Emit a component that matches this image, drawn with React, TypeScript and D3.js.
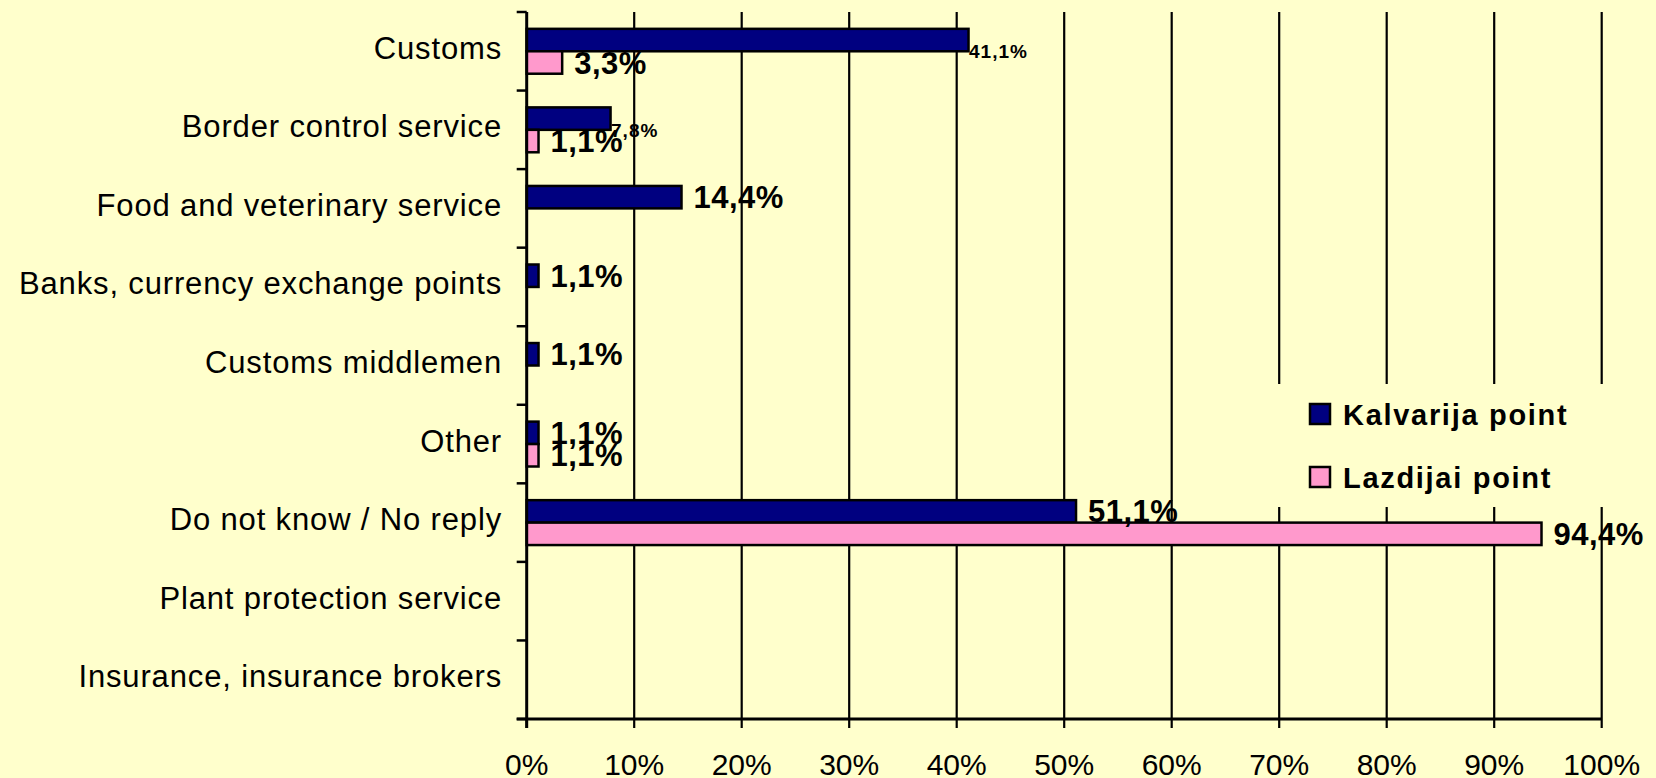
import React from "react";
import * as d3 from "d3";

const categories = [
  "Customs",
  "Border control service",
  "Food and veterinary service",
  "Banks, currency exchange points",
  "Customs middlemen",
  "Other",
  "Do not know / No reply",
  "Plant protection service",
  "Insurance, insurance brokers",
];
const seriesNames = ["Kalvarija point", "Lazdijai point"];
const kalvarija = [41.1, 7.8, 14.4, 1.1, 1.1, 1.1, 51.1, 0, 0];
const lazdijai = [3.3, 1.1, 0, 0, 0, 1.1, 94.4, 0, 0];
const xTicks = [0, 10, 20, 30, 40, 50, 60, 70, 80, 90, 100];

const W = 1656;
const H = 778;
const BG = "#FFFFCC";
const COLORS = ["#000080", "#FF99CC"];
const FONT = "'Liberation Sans', Arial, Helvetica, sans-serif";

// labels rendered in a smaller font in the original
const smallLabels = new Set(["0-0", "1-0"]);

export default function App() {
  const left = 526.7;
  const right = 1601.7;
  const top = 12;
  const bottom = 719;

  const x = d3.scaleLinear().domain([0, 100]).range([left, right]);
  const y = d3.scaleBand<string>().domain(categories).range([top, bottom]).padding(0);
  const y1 = d3
    .scaleBand<string>()
    .domain(seriesNames)
    .range([0, y.step()])
    .paddingInner(0)
    .paddingOuter(0.75);

  const seriesValues = [kalvarija, lazdijai];
  const fmt = (v: number) => v.toFixed(1).replace(".", ",") + "%";

  const bars: any[] = [];
  seriesValues.forEach((vals, si) => {
    vals.forEach((v, ci) => {
      if (v <= 0) return;
      const cat = categories[ci];
      const y0 = (y(cat) as number) + (y1(seriesNames[si]) as number);
      bars.push({ si, ci, v, y0, h: y1.bandwidth(), key: `${ci}-${si}` });
    });
  });

  const boundaries = d3.range(categories.length + 1).map((i) => top + i * y.step());

  return (
    <svg
      width={W}
      height={H}
      style={{ position: "fixed", left: 0, top: 0, display: "block" }}
      fontFamily={FONT}
    >
      <rect x={0} y={0} width={W} height={H} fill={BG} />

      {/* gridlines */}
      {xTicks.slice(1).map((t) => (
        <line key={"g" + t} x1={x(t)} x2={x(t)} y1={top} y2={bottom} stroke="#000" strokeWidth={2.2} />
      ))}

      {/* legend background covering gridlines */}
      <rect x={1268} y={384} width={382} height={123} fill={BG} />

      {/* bars */}
      {bars.map((b) => (
        <rect
          key={"b" + b.key}
          x={x(0)}
          y={b.y0}
          width={x(b.v) - x(0)}
          height={b.h}
          fill={COLORS[b.si]}
          stroke="#000"
          strokeWidth={2.5}
        />
      ))}

      {/* y axis */}
      <line x1={left} x2={left} y1={top} y2={bottom + 9} stroke="#000" strokeWidth={3} />
      {boundaries.map((by, i) => (
        <line key={"yt" + i} x1={left - 10} x2={left} y1={by} y2={by} stroke="#000" strokeWidth={2.5} />
      ))}
      {/* x axis */}
      <line x1={left - 10} x2={right} y1={bottom} y2={bottom} stroke="#000" strokeWidth={3} />
      {xTicks.map((t) => (
        <line key={"xt" + t} x1={x(t)} x2={x(t)} y1={bottom} y2={bottom + 9} stroke="#000" strokeWidth={2.2} />
      ))}

      {/* category labels */}
      {categories.map((c) => (
        <text
          key={"c" + c}
          x={502}
          y={(y(c) as number) + y.bandwidth() / 2 + 7.5}
          textAnchor="end"
          fontSize={31}
          letterSpacing={0.85}
          fill="#000"
        >
          {c}
        </text>
      ))}

      {/* x tick labels */}
      {xTicks.map((t) => (
        <text key={"xl" + t} x={x(t)} y={774.5} textAnchor="middle" fontSize={30} fill="#000">
          {t + "%"}
        </text>
      ))}

      {/* data labels */}
      {bars.map((b) => {
        const small = smallLabels.has(b.key);
        if (small) {
          return (
            <text
              key={"l" + b.key}
              x={x(b.v) + 0.5}
              y={b.y0 + b.h + 7}
              fontSize={19}
              fontWeight="bold"
              letterSpacing={1}
              fill="#000"
            >
              {fmt(b.v)}
            </text>
          );
        }
        return (
          <text
            key={"l" + b.key}
            x={x(b.v) + 12}
            y={b.y0 + b.h / 2 + 11}
            fontSize={31}
            fontWeight="bold"
            letterSpacing={0.5}
            fill="#000"
          >
            {fmt(b.v)}
          </text>
        );
      })}

      {/* legend */}
      {seriesNames.map((s, i) => (
        <g key={"lg" + s} transform={`translate(1310, ${404 + i * 63})`}>
          <rect x={0} y={0} width={20} height={20} fill={COLORS[i]} stroke="#000" strokeWidth={2.5} />
          <text x={33} y={21} fontSize={29} fontWeight="bold" letterSpacing={1.7} fill="#000">
            {s}
          </text>
        </g>
      ))}
    </svg>
  );
}
